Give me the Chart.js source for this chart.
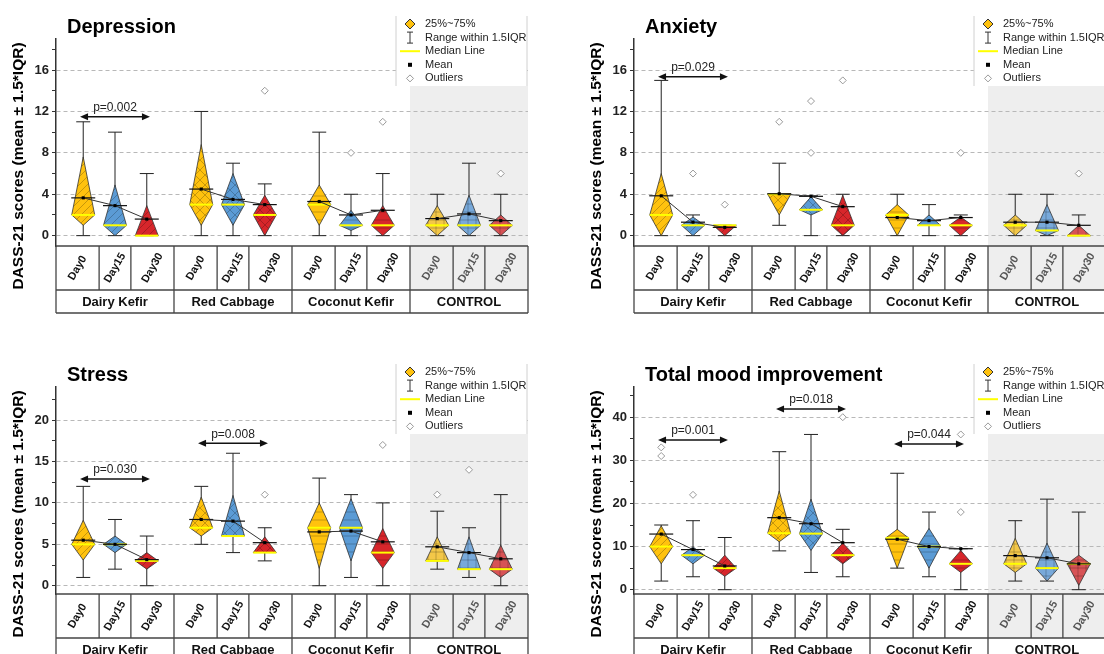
<!DOCTYPE html>
<html>
<head>
<meta charset="utf-8">
<script src="https://cdn.jsdelivr.net/npm/chart.js@4.4.1/dist/chart.umd.min.js"></script>
<style>
html, body { margin: 0; padding: 0; background: #fff; overflow: hidden; width: 1104px; height: 654px; }
body { position: relative; }
canvas { position: absolute; }
</style>
</head>
<body>
<canvas id="depression" width="552" height="327" style="left:0;top:0"></canvas>
<canvas id="anxiety" width="552" height="327" style="left:578px;top:0"></canvas>
<canvas id="stress" width="552" height="327" style="left:0;top:348px"></canvas>
<canvas id="total" width="552" height="327" style="left:578px;top:348px"></canvas>
<script>
const groups = ['Dairy Kefir', 'Red Cabbage', 'Coconut Kefir', 'CONTROL'];
const days = ['Day0', 'Day15', 'Day30'];

// order of every array: group by group, Day0 / Day15 / Day30
// Depression
const depQ1   = [1, 0, 0,      1, 1, 0,      1, 0.5, 0,     0, 0, 0];
const depMed  = [2, 1, 0,      3, 3, 2,      3, 1, 1,       1, 1, 1];
const depQ3   = [7.6, 4.9, 2.9, 8.8, 6, 3.9,  4.9, 2.45, 2.9, 2.9, 3.9, 2];
const depLow  = [0, 0, 0,      0, 0, 0,      0, 0, 0,       0, 0, 0];
const depHigh = [11, 10, 6,    12, 7, 5,     10, 4, 6,      4, 7, 4];
const depMean = [3.65, 2.9, 1.6, 4.5, 3.5, 3.0, 3.3, 2.0, 2.45, 1.65, 2.1, 1.45];
const depOut  = [[5, 14], [7, 8], [8, 11], [11, 6]];
const depP    = [[0, 'p=0.002', 11.5]];

// Anxiety
const anxQ1   = [0, 0, 0,      2, 2, 0,      0, 1, 0,       0, 0, 0];
const anxMed  = [2, 1, 1,      4, 2.5, 1,    2, 1, 1,       1, 0.5, 0];
const anxQ3   = [6, 1.8, 1,    4, 3.75, 3.9, 3, 2, 1.8,     2, 3, 1];
const anxLow  = [0, 0, 0,      1, 0, 0,      0, 0, 0,       0, 0, 0];
const anxHigh = [15, 2, 1,     7, 3.85, 4,   4, 3, 2,       4, 4, 2];
const anxMean = [3.85, 1.3, 0.8, 4.05, 3.8, 2.8, 1.75, 1.45, 1.75, 1.3, 1.3, 1.0];
const anxOut  = [[1, 6], [2, 3], [3, 11], [4, 13], [4, 8], [5, 15], [8, 8], [11, 6]];
const anxP    = [[0, 'p=0.029', 15.35]];

// Stress
const strQ1   = [3.1, 4, 2,    6, 6, 4,      2.1, 3, 2.1,   3, 2, 1];
const strMed  = [5, 5, 3,      7, 6, 4,      7, 7, 4,       3, 2, 2];
const strQ3   = [7.9, 6, 4,    10.7, 10.9, 5.9, 10, 10.5, 6.9, 5.9, 5.9, 4.9];
const strLow  = [1, 2, 0,      5, 4, 3,      0, 1, 0,       2, 1, 0];
const strHigh = [12, 8, 6,     12, 16, 7,    13, 11, 10,    9, 7, 11];
const strMean = [5.5, 5.0, 3.15, 8.0, 7.8, 5.2, 6.5, 6.6, 5.3, 4.7, 4.0, 3.25];
const strOut  = [[5, 11], [8, 17], [9, 11], [10, 14]];
const strP    = [[0, 'p=0.030', 12.9], [1, 'p=0.008', 17.2]];

// Total mood improvement
const totQ1   = [6, 6, 3.1,    11.1, 9.1, 6, 5, 5, 4,       4, 2, 1];
const totMed  = [10, 8, 5,     13.1, 13, 8, 12, 10, 6,      6, 5, 6];
const totQ3   = [14.8, 9.9, 8, 22.9, 21, 10.8, 14, 14.2, 9.1, 11.9, 10.8, 8];
const totLow  = [2, 3, 0,      9, 4, 3,      5, 3, 0,       2, 2, 0];
const totHigh = [15, 16, 12.1, 32, 36, 14,   27, 18, 9.5,   16, 21, 18];
const totMean = [12.9, 9.3, 5.5, 16.7, 15.3, 10.9, 11.7, 10, 9.5, 7.9, 7.4, 6.0];
const totOut  = [[0, 31], [0, 33], [1, 22], [5, 40], [8, 18], [8, 36]];
const totP    = [[0, 'p=0.001', 34.7], [1, 'p=0.018', 41.9], [2, 'p=0.044', 33.8]];

const dayColors = ['#FFC20E', '#5B9BD5', '#D7262B'];
const controlColors = ['#F3C748', '#78A9DA', '#D75255'];
const hatchKinds = ['diag', 'cross', 'horiz', 'grid'];

const FONT = 'Arial, "Liberation Sans", sans-serif';
Chart.defaults.font.family = FONT;

const GS = 26 / 7;   // distance between groups on the x scale
const X0 = -6 / 7;   // left edge of the first group
const xOf = (g, d) => g * GS + d;

function hatchTile(color, kind) {
    const s = kind === 'cross' ? 10 : 8;
    const c = document.createElement('canvas');
    c.width = s; c.height = s;
    const g = c.getContext('2d');
    g.fillStyle = color;
    g.fillRect(0, 0, s, s);
    g.strokeStyle = 'rgba(0,0,0,0.32)';
    g.lineWidth = 0.7;
    g.beginPath();
    if (kind === 'diag' || kind === 'cross') {
        g.moveTo(0, s); g.lineTo(s, 0);
        g.moveTo(-s / 2, s / 2); g.lineTo(s / 2, -s / 2);
        g.moveTo(s / 2, s * 1.5); g.lineTo(s * 1.5, s / 2);
    }
    if (kind === 'cross') {
        g.moveTo(0, 0); g.lineTo(s, s);
        g.moveTo(-s / 2, s / 2); g.lineTo(s / 2, s * 1.5);
        g.moveTo(s / 2, -s / 2); g.lineTo(s * 1.5, s / 2);
    }
    if (kind === 'horiz' || kind === 'grid') {
        g.moveTo(0, s / 2); g.lineTo(s, s / 2);
    }
    if (kind === 'grid') {
        g.moveTo(s / 2, 0); g.lineTo(s / 2, s);
    }
    g.stroke();
    return c;
}

function line(ctx, x1, y1, x2, y2) {
    ctx.beginPath();
    ctx.moveTo(x1, y1);
    ctx.lineTo(x2, y2);
    ctx.stroke();
}

function panelPlugin(title, st, pvals) {
    return {
        id: 'panel',
        beforeDraw(chart) {
            const {ctx, chartArea: a, scales: {x}} = chart;
            const cx = x.getPixelForValue(X0 + 3 * GS);
            ctx.save();
            ctx.fillStyle = '#eeeeee';
            ctx.fillRect(cx, a.top + 47, a.right - cx, a.bottom + 44 - (a.top + 47));
            ctx.restore();
        },
        beforeDatasetsDraw(chart) {
            const {ctx, scales: {x, y}} = chart;
            const hw = 11.5, cap = 7;
            for (let g = 0; g < groups.length; g++) {
                for (let d = 0; d < days.length; d++) {
                    const i = g * 3 + d;
                    const px = x.getPixelForValue(xOf(g, d));
                    const yl = y.getPixelForValue(st.low[i]);
                    const yh = y.getPixelForValue(st.high[i]);
                    const y1 = y.getPixelForValue(st.q1[i]);
                    const y3 = y.getPixelForValue(st.q3[i]);
                    const ym = y.getPixelForValue(st.med[i]);
                    const yMean = y.getPixelForValue(st.mean[i]);
                    ctx.save();
                    ctx.strokeStyle = '#222';
                    ctx.lineWidth = 1;
                    line(ctx, px, yl, px, yh);
                    line(ctx, px - cap, yl, px + cap, yl);
                    line(ctx, px - cap, yh, px + cap, yh);

                    const color = g === 3 ? controlColors[d] : dayColors[d];
                    ctx.beginPath();
                    ctx.moveTo(px, y3);
                    ctx.lineTo(px + hw, ym);
                    ctx.lineTo(px, y1);
                    ctx.lineTo(px - hw, ym);
                    ctx.closePath();
                    ctx.fillStyle = ctx.createPattern(hatchTile(color, hatchKinds[g]), 'repeat');
                    ctx.fill();
                    ctx.strokeStyle = '#333';
                    ctx.lineWidth = 0.8;
                    ctx.stroke();

                    ctx.strokeStyle = '#FFFF00';
                    ctx.lineWidth = 2;
                    line(ctx, px - hw, ym, px + hw, ym);

                    ctx.strokeStyle = '#111';
                    ctx.lineWidth = 1.2;
                    line(ctx, px - 12, yMean, px + 12, yMean);
                    ctx.restore();
                }
            }
        },
        afterDraw(chart) {
            const {ctx, chartArea: a, scales: {x, y}} = chart;
            ctx.save();

            // category table under the plot
            const top = a.bottom, mid = a.bottom + 44, bot = a.bottom + 67;
            ctx.strokeStyle = '#444';
            ctx.lineWidth = 1.3;
            line(ctx, a.left, top, a.right, top);
            line(ctx, a.left, mid, a.right, mid);
            line(ctx, a.left, bot, a.right, bot);
            for (let g = 0; g <= groups.length; g++) {
                const gx = x.getPixelForValue(X0 + g * GS);
                line(ctx, gx, top, gx, bot);
            }
            for (let g = 0; g < groups.length; g++) {
                const edges = [X0 + g * GS, xOf(g, 0) + 0.5, xOf(g, 1) + 0.5, X0 + (g + 1) * GS];
                line(ctx, x.getPixelForValue(edges[1]), top, x.getPixelForValue(edges[1]), mid);
                line(ctx, x.getPixelForValue(edges[2]), top, x.getPixelForValue(edges[2]), mid);
                ctx.fillStyle = g === 3 ? '#555' : '#111';
                ctx.font = 'bold 11px ' + FONT;
                ctx.textAlign = 'center';
                ctx.textBaseline = 'middle';
                for (let d = 0; d < days.length; d++) {
                    const cx = (x.getPixelForValue(edges[d]) + x.getPixelForValue(edges[d + 1])) / 2;
                    ctx.save();
                    ctx.translate(cx, (top + mid) / 2);
                    ctx.rotate(-Math.PI / 3);
                    ctx.fillText(days[d], 0, 0);
                    ctx.restore();
                }
                ctx.fillStyle = '#111';
                ctx.font = 'bold 13px ' + FONT;
                const gc = (x.getPixelForValue(edges[0]) + x.getPixelForValue(edges[3])) / 2;
                ctx.fillText(groups[g], gc, (mid + bot) / 2 + 1);
            }

            // titles
            ctx.fillStyle = '#000';
            ctx.textAlign = 'left';
            ctx.textBaseline = 'middle';
            ctx.font = 'bold 20px ' + FONT;
            ctx.fillText(title, a.left + 11, a.top - 12);
            ctx.save();
            ctx.translate(19, a.top + 127);
            ctx.rotate(-Math.PI / 2);
            ctx.textAlign = 'center';
            ctx.font = 'bold 15.5px ' + FONT;
            ctx.fillText('DASS-21 scores (mean \u00b1 1.5*IQR)', 0, 0);
            ctx.restore();

            // p-value brackets
            for (const [g, label, v] of pvals) {
                const xa = x.getPixelForValue(xOf(g, 0) - 0.1);
                const xb = x.getPixelForValue(xOf(g, 2) + 0.1);
                const yy = y.getPixelForValue(v);
                ctx.strokeStyle = '#111';
                ctx.fillStyle = '#111';
                ctx.lineWidth = 1.5;
                line(ctx, xa + 3, yy, xb - 3, yy);
                ctx.beginPath();
                ctx.moveTo(xa, yy); ctx.lineTo(xa + 8, yy - 3.5); ctx.lineTo(xa + 8, yy + 3.5); ctx.closePath();
                ctx.moveTo(xb, yy); ctx.lineTo(xb - 8, yy - 3.5); ctx.lineTo(xb - 8, yy + 3.5); ctx.closePath();
                ctx.fill();
                ctx.fillStyle = '#222';
                ctx.font = '12px ' + FONT;
                ctx.textAlign = 'center';
                ctx.fillText(label, x.getPixelForValue(xOf(g, 1)), yy - 9);
            }

            // legend
            const lx = a.right - 132, lr = a.right - 1, lt = a.top - 23, lb = a.top + 47;
            ctx.fillStyle = '#fff';
            ctx.fillRect(lx, lt, lr - lx, lb - lt);
            ctx.strokeStyle = '#d0d0d0';
            ctx.lineWidth = 1;
            line(ctx, lx, lt, lx, lb);
            line(ctx, lr, lt, lr, lb);
            const ix = lx + 14;
            const rowY = k => lt + 8 + k * 13.6;
            ctx.beginPath();
            ctx.moveTo(ix, rowY(0) - 5); ctx.lineTo(ix + 5, rowY(0)); ctx.lineTo(ix, rowY(0) + 5); ctx.lineTo(ix - 5, rowY(0)); ctx.closePath();
            ctx.fillStyle = dayColors[0];
            ctx.fill();
            ctx.strokeStyle = '#333';
            ctx.stroke();
            line(ctx, ix, rowY(1) - 5.5, ix, rowY(1) + 5.5);
            line(ctx, ix - 3, rowY(1) - 5.5, ix + 3, rowY(1) - 5.5);
            line(ctx, ix - 3, rowY(1) + 5.5, ix + 3, rowY(1) + 5.5);
            ctx.strokeStyle = '#FFFF00';
            ctx.lineWidth = 2;
            line(ctx, ix - 10, rowY(2), ix + 10, rowY(2));
            ctx.fillStyle = '#000';
            ctx.fillRect(ix - 2, rowY(3) - 2, 4, 4);
            ctx.beginPath();
            ctx.moveTo(ix, rowY(4) - 3.5); ctx.lineTo(ix + 3.5, rowY(4)); ctx.lineTo(ix, rowY(4) + 3.5); ctx.lineTo(ix - 3.5, rowY(4)); ctx.closePath();
            ctx.strokeStyle = '#9a9a9a';
            ctx.lineWidth = 1;
            ctx.stroke();
            ctx.fillStyle = '#222';
            ctx.font = '11px ' + FONT;
            ctx.textAlign = 'left';
            ['25%~75%', 'Range within 1.5IQR', 'Median Line', 'Mean', 'Outliers'].forEach((t, k) => {
                ctx.fillText(t, lx + 29, rowY(k));
            });
            ctx.restore();
        }
    };
}

function drawPanel(id, title, st, yMax, step, pvals) {
    const isMajor = v => Math.abs(v / (2 * step) - Math.round(v / (2 * step))) < 1e-6;
    const meanPts = [];
    for (let g = 0; g < groups.length; g++) {
        for (let d = 0; d < days.length; d++) {
            meanPts.push({x: xOf(g, d), y: st.mean[g * 3 + d]});
        }
        meanPts.push({x: xOf(g, 2) + 0.5, y: null});
    }
    const outPts = st.out.map(([i, v]) => ({x: xOf(Math.floor(i / 3), i % 3), y: v}));

    return new Chart(document.getElementById(id), {
        type: 'scatter',
        data: {
            datasets: [{
                data: meanPts,
                showLine: true,
                spanGaps: false,
                borderColor: '#333',
                borderWidth: 1,
                pointStyle: 'rect',
                pointRadius: 2.2,
                pointBackgroundColor: '#000',
                pointBorderColor: '#000',
                pointBorderWidth: 0
            }, {
                data: outPts,
                showLine: false,
                pointStyle: 'rectRot',
                pointRadius: 3.5,
                pointBackgroundColor: '#fff',
                pointBorderColor: '#9a9a9a',
                pointBorderWidth: 1
            }]
        },
        options: {
            responsive: false,
            animation: false,
            devicePixelRatio: 1,
            layout: {padding: {left: 0, top: 39, right: 24, bottom: 81}},
            plugins: {legend: {display: false}, tooltip: {enabled: false}},
            scales: {
                x: {type: 'linear', min: X0, max: X0 + 4 * GS, display: false},
                y: {
                    min: -1,
                    max: yMax,
                    afterFit: s => { s.width = 56; },
                    afterBuildTicks: s => {
                        const t = [];
                        for (let k = 0; k * step <= yMax; k++) t.push({value: k * step});
                        s.ticks = t;
                    },
                    ticks: {
                        stepSize: step,
                        autoSkip: false,
                        padding: 3,
                        color: '#222',
                        font: {size: 13, weight: 'bold'},
                        callback: v => isMajor(v) ? v : ''
                    },
                    grid: {
                        color: c => isMajor(c.tick.value) ? '#b8b8b8' : 'rgba(0,0,0,0)',
                        tickColor: '#333',
                        tickLength: 4,
                        lineWidth: 1
                    },
                    border: {color: '#333', width: 1.5, dash: [4, 3]}
                }
            }
        },
        plugins: [panelPlugin(title, st, pvals)]
    });
}

drawPanel('depression', 'Depression',
    {q1: depQ1, med: depMed, q3: depQ3, low: depLow, high: depHigh, mean: depMean, out: depOut}, 19, 2, depP);
drawPanel('anxiety', 'Anxiety',
    {q1: anxQ1, med: anxMed, q3: anxQ3, low: anxLow, high: anxHigh, mean: anxMean, out: anxOut}, 19, 2, anxP);
drawPanel('stress', 'Stress',
    {q1: strQ1, med: strMed, q3: strQ3, low: strLow, high: strHigh, mean: strMean, out: strOut}, 24, 2.5, strP);
drawPanel('total', 'Total mood improvement',
    {q1: totQ1, med: totMed, q3: totQ3, low: totLow, high: totHigh, mean: totMean, out: totOut}, 47, 5, totP);
</script>
</body>
</html>
